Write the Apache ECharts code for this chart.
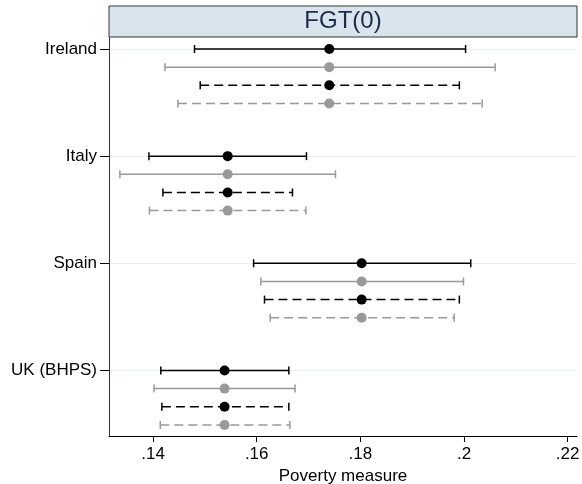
<!DOCTYPE html>
<html><head><meta charset="utf-8">
<script src="https://cdn.jsdelivr.net/npm/echarts@6/dist/echarts.min.js"></script>
<style>html,body{margin:0;padding:0;background:#fff}#c{width:582px;height:484px}</style>
</head><body><div id="c"></div>
<script>
const countries = ['Ireland', 'Italy', 'Spain', 'UK (BHPS)'];
const estimates = [0.1740, 0.1544, 0.18025, 0.1538];
const solidBlackLo = [0.1480, 0.1392, 0.1594, 0.1415];
const solidBlackHi = [0.2003, 0.1696, 0.2013, 0.1662];
const solidGrayLo  = [0.1423, 0.1336, 0.1608, 0.1402];
const solidGrayHi  = [0.2060, 0.1752, 0.1999, 0.1674];
const dashBlackLo  = [0.1491, 0.1419, 0.1615, 0.1417];
const dashBlackHi  = [0.1991, 0.1669, 0.1991, 0.1662];
const dashGrayLo   = [0.1448, 0.1393, 0.1626, 0.1414];
const dashGrayHi   = [0.2035, 0.1695, 0.1981, 0.1664];
const xTicks = [0.14, 0.16, 0.18, 0.20, 0.22];
const titleText = 'FGT(0)';
const xName = 'Poverty measure';

const GROUP = 5.9;
const rowsLo = [solidBlackLo, solidGrayLo, dashBlackLo, dashGrayLo];
const rowsHi = [solidBlackHi, solidGrayHi, dashBlackHi, dashGrayHi];
const styles = [
  {color: '#000000', dash: null},
  {color: '#999999', dash: null},
  {color: '#000000', dash: [9, 5]},
  {color: '#999999', dash: [9, 5]}
];
const data = [];
countries.forEach((c, i) => {
  for (let j = 0; j < 4; j++) {
    data.push([rowsLo[j][i], rowsHi[j][i], estimates[i], i * GROUP + j, j]);
  }
});
const yPos = countries.map((c, i) => i * GROUP);

const chart = echarts.init(document.getElementById('c'), null, {renderer: 'canvas'});
const font = '"Liberation Sans", Arial, sans-serif';
chart.setOption({
  animation: false,
  backgroundColor: '#ffffff',
  grid: {left: 109, right: 5, top: 37, bottom: 48, outerBoundsMode: 'none', containLabel: false},
  graphic: [
    {type: 'rect', shape: {x: 109, y: 6, width: 468, height: 31},
     style: {fill: '#d9e5ec', stroke: '#333333', lineWidth: 1}, z: 10},
    {type: 'text', x: 343, y: 21.5, z: 11,
     style: {text: titleText, fill: '#1c2b4d', font: '24px ' + font, align: 'center', verticalAlign: 'middle'}}
  ],
  xAxis: {
    type: 'value', min: 0.1315, max: 0.2218,
    name: xName, nameLocation: 'middle', nameGap: 32,
    nameTextStyle: {color: '#000', fontSize: 17, fontFamily: font},
    axisLine: {show: true, onZero: false, lineStyle: {color: '#000', width: 1}},
    axisTick: {show: true, length: 6, customValues: xTicks, lineStyle: {color: '#000'}},
    axisLabel: {customValues: xTicks, color: '#000', fontSize: 17, fontFamily: font, margin: 10,
      formatter: v => String(+v.toFixed(2)).replace(/^0\./, '.')},
    splitLine: {show: false}
  },
  yAxis: {
    type: 'value', inverse: true, min: -0.66, max: 21.31,
    axisLine: {show: true, onZero: false, lineStyle: {color: '#333', width: 1}},
    axisTick: {show: true, length: 9, customValues: yPos, lineStyle: {color: '#000'}},
    axisLabel: {customValues: yPos, color: '#000', fontSize: 17, fontFamily: font, margin: 12,
      formatter: v => countries[Math.round(v / GROUP)]},
    splitLine: {show: true, lineStyle: {color: '#e6eff1', width: 1}}
  },
  series: [{
    type: 'custom',
    data: data,
    encode: {x: [0, 1, 2], y: 3},
    renderItem: function (params, api) {
      const y = api.value(3);
      const lo = api.coord([api.value(0), y]);
      const hi = api.coord([api.value(1), y]);
      const mid = api.coord([api.value(2), y]);
      const st = styles[api.value(4)];
      return {type: 'group', children: [
        {type: 'line', shape: {x1: lo[0], y1: lo[1], x2: hi[0], y2: hi[1]},
         style: {stroke: st.color, lineWidth: 1.5, lineDash: st.dash}},
        {type: 'line', shape: {x1: lo[0], y1: lo[1] - 4, x2: lo[0], y2: lo[1] + 4},
         style: {stroke: st.color, lineWidth: 1.5}},
        {type: 'line', shape: {x1: hi[0], y1: hi[1] - 4, x2: hi[0], y2: hi[1] + 4},
         style: {stroke: st.color, lineWidth: 1.5}},
        {type: 'circle', shape: {cx: mid[0], cy: mid[1], r: 5},
         style: {fill: st.color}}
      ]};
    }
  }]
});
</script></body></html>
